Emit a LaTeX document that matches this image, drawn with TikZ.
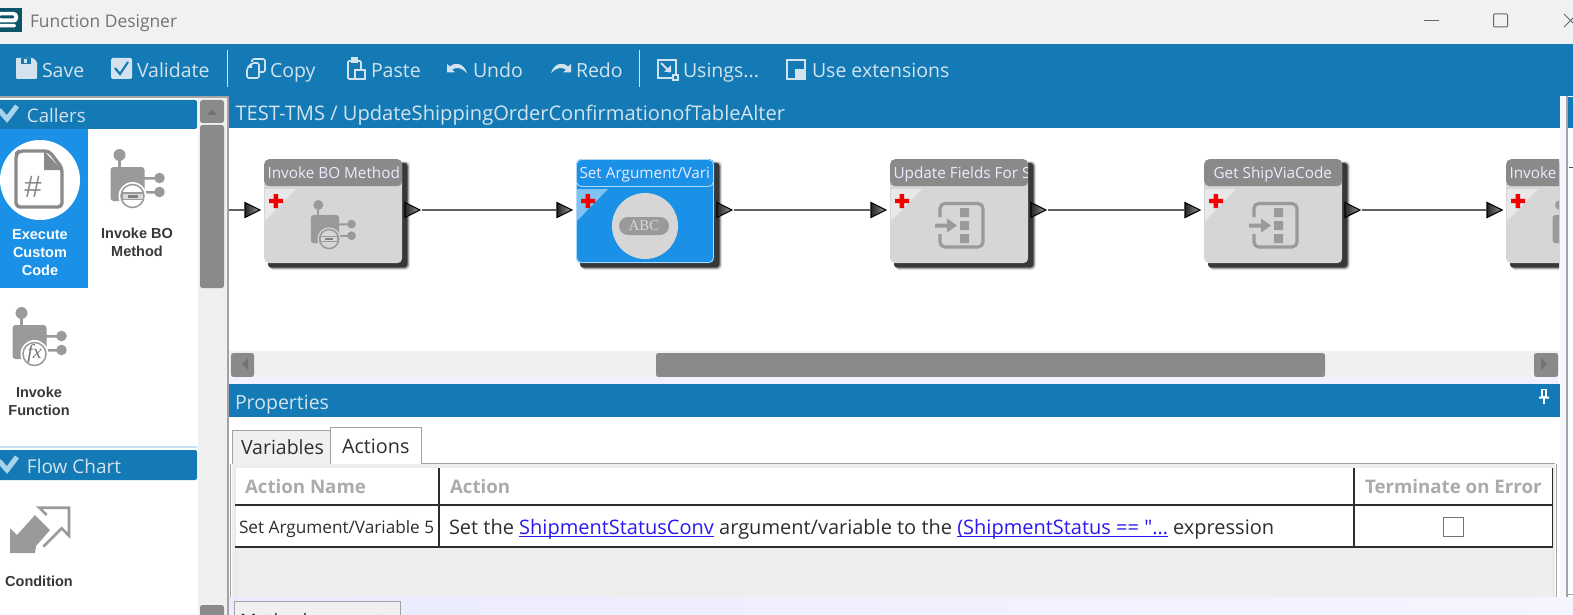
\documentclass[tikz,border=0pt]{standalone}
\usepackage{fontspec}
\setmainfont{Open Sans}
\newfontfamily\plainos{Open Sans}
\newfontfamily\arl{Liberation Sans}
\newfontfamily\tms{Liberation Serif}
\usetikzlibrary{calc}
\definecolor{tbar}{HTML}{137AB5}
\definecolor{tile}{HTML}{1A90E6}
\definecolor{soft}{HTML}{D3E3EE}
\definecolor{chev}{HTML}{A9D3EA}
\definecolor{glyph}{HTML}{9A9A9A}
\definecolor{body}{HTML}{D6D6D6}
\definecolor{hdr}{HTML}{8A8A8A}
\definecolor{rail}{HTML}{F0F0F0}
\definecolor{well}{HTML}{EEEEEE}
\definecolor{edge}{HTML}{A3A3A3}
\definecolor{hyper}{HTML}{2A1AEE}
\definecolor{ink}{HTML}{2E2E2E}
\definecolor{mute}{HTML}{ABABAB}
\definecolor{logoc}{HTML}{0E5468}
\newcommand\fs[1]{\fontsize{#1}{#1}\selectfont}
\newlength\lnkw
\newcommand\lnk[1]{\settowidth\lnkw{#1}\textcolor{hyper}{\rlap{\rule[-2.6pt]{\lnkw}{1pt}}#1}}
\tikzset{
  lab/.style={anchor=base west,inner sep=0pt,outer sep=0pt,font=\fs{#1},yshift={-0.36*#1*1pt}},
  bar/.style={text=soft,lab=19.5},
  head/.style={text=soft,lab=#1},
  side/.style={align=center,inner sep=0pt,font=\arl\fs{14.5}\bfseries,text=black!78},
  wire/.style={draw=black!62,line width=2pt},
  cell/.style={draw=ink,line width=1.4pt},
  btn/.style={fill=hdr,rounded corners=2.5pt},
  tool/.style={fill=soft,draw=none},
  toolo/.style={draw=soft,line width=1.8pt,fill=none},
}
\newcommand\pin[2]{%
  \draw[black,line width=1.1pt,line join=miter,left color=black!85,right color=black!40]
    ($(#1,#2)+(-15,-7.5)$) -- ($(#1,#2)+(-15,7.5)$) -- (#1,#2) -- cycle;}
\newcommand\invokeicon[5]{%
  \begin{scope}[shift={(#1,#2)},scale=#3]
    \fill[glyph] (0,0) circle (6);
    \fill[glyph] (-1.3,5) rectangle (1.3,13);
    \fill[glyph,rounded corners=3] (-9,12) rectangle (25,46);
    \fill[glyph] (24,22) rectangle (40,24.5) (24,36) rectangle (40,38.5);
    \fill[glyph] (40,23) circle (5.3) (40,37) circle (5.3);
    \fill[#4] (13,41) circle (14);
    \draw[glyph,line width=1.5pt] (13,41) circle (11.5);
    #5
  \end{scope}}
\newcommand\boglyph{%
  \fill[glyph] (1.5,37) rectangle (24.5,45);
  \fill[white!85!black] (3,38.5) rectangle (23,43.5);
  \fill[black!50] (8,39.5) rectangle (18,42.5);}
\newcommand\fieldglyph[1]{%
  \begin{scope}[shift={(#1,0)}]
    \draw[glyph,line width=3.2pt,rounded corners=5] (50,217) -- (50,203.5) -- (93,203.5) -- (93,247) -- (50,247) -- (50,234);
    \fill[glyph] (70,208) rectangle (79,217) (70,221) rectangle (79,230) (70,234) rectangle (79,243);
    \fill[glyph] (45,223.6) -- (57,223.6) -- (57,218.5) -- (67,225.5) -- (57,232.5) -- (57,227.6) -- (45,227.6) -- cycle;
  \end{scope}}
\newcommand\stepbox[5]{%
  \fill[black!10,rounded corners=4] (#2+5,161) rectangle (#2+146,270);
  \fill[black!35,rounded corners=4] (#2+5,162) rectangle (#2+145,269);
  \fill[black!78,rounded corners=3] (#2+4,163) rectangle (#2+143.5,267.5);
  \node[fill=#4,rounded corners=5,anchor=north west,minimum width=138pt,minimum height=104pt,inner sep=0pt] (#1) at (#2,159) {};
  \node[fill=#5,rounded corners=5,anchor=north west,minimum width=138pt,minimum height=27pt,inner sep=0pt] (#1h) at (#2,159) {};
  \begin{scope}
    \clip (#2,159) rectangle (#2+137,186);
    \node[lab=15.3,text=white!92!blue] (#1t) at (#2+3.5,172.5) {#3};
  \end{scope}
  \fill[white,opacity=.45] (#2+1,189) -- (#2+32,189) -- (#2+1,221) -- cycle;
  \fill[red!95!black] (#2+9.5,194) rectangle (#2+14,208) (#2+5,198.8) rectangle (#2+19,203.2);
  \coordinate (#1in) at (#2-4,210);
  \coordinate (#1out) at (#2+156,210);
  \pin{#2-4}{210}\pin{#2+156}{210}}
\begin{document}
\begin{tikzpicture}[x=1pt,y=-1pt]
\useasboundingbox (0,0) rectangle (1573,615);
\fill[white] (0,0) rectangle (1573,615);
% ---------- title bar
\fill[rail!95!white] (0,0) rectangle (1573,44);
\fill[logoc] (0,8) rectangle (22,32);
\fill[white,rounded corners=4] (-5,12) rectangle (18,22.5);
\fill[logoc,rounded corners=1] (0,15.5) rectangle (14,18.5);
\fill[white,rounded corners=1.5] (-5,24) rectangle (16,27.5);
\node[lab=17.4,text=black!55] (ttl) at (30,21) {Function Designer};
\draw[black!60,line width=.8pt] (1424,20.5) -- (1439,20.5);
\draw[black!60,line width=1pt,rounded corners=1] (1493.5,14) rectangle (1507.5,27);
\draw[black!60,line width=1pt] (1564,14) -- (1573,23) (1564,27) -- (1573,18);
% ---------- toolbar
\fill[tbar] (0,44) rectangle (1573,96);
\draw[soft,line width=1pt] (227,50) -- (227,87) (639,50) -- (639,87);
\fill[tool,rounded corners=1] (16,58) -- (33,58) -- (37,62) -- (37,79) -- (16,79) -- cycle;
\fill[tbar] (21,58) rectangle (31,64);
\fill[tool] (24,59) rectangle (27,63);
\node[bar] (save) at (42,70) {Save};
\fill[tool,rounded corners=1.5] (111,58) rectangle (132,79);
\draw[tbar,line width=2.2pt] (115,68) -- (120,74) -- (128,62);
\node[bar] (valid) at (137,70) {Validate};
\draw[toolo,line width=1.6pt,rounded corners=2] (252,62) -- (252,59) -- (265,59) -- (265,72) -- (260,72);
\draw[toolo,line width=1.6pt,rounded corners=2] (247,68) -- (252,63) -- (259,63) -- (259,78) -- (247,78) -- cycle;
\fill[tool] (247,68) -- (252,63) -- (252,68) -- cycle;
\node[bar] (copy) at (270,70) {Copy};
\draw[toolo,line width=1.6pt,rounded corners=1] (348,61) rectangle (361,79);
\fill[tool] (351,57.5) rectangle (358,63);
\draw[soft,fill=tbar,line width=1.4pt] (355,70) rectangle (365,79);
\node[bar] (paste) at (371,70) {Paste};
\fill[tool] (447,64) -- (447,72.5) -- (455,72.5) -- (452,69.5) .. controls (457,66.5) and (462,68) .. (467,73) .. controls (464,64) and (456,61) .. (450,66.5) -- cycle;
\node[bar] (undo) at (473,70) {Undo};
\fill[tool] (571,64) -- (571,72.5) -- (563,72.5) -- (566,69.5) .. controls (561,66.5) and (556,68) .. (551,73) .. controls (554,64) and (562,61) .. (568,66.5) -- cycle;
\node[bar] (redo) at (576,70) {Redo};
\draw[toolo] (658,60) rectangle (676,78);
\draw[soft,line width=2pt] (661,63) -- (670,72);
\fill[soft] (664,72) -- (671,72) -- (671,65) -- cycle;
\fill[tool] (672,74) rectangle (679,81);
\fill[tbar] (674,76) rectangle (677,79);
\node[bar] (usings) at (683,70) {Usings...};
\draw[toolo] (787,60) rectangle (805,79);
\fill[tool] (795,69) rectangle (806,80);
\node[bar] (ext) at (812,70) {Use extensions};
% ---------- left palette
\fill[rail] (198,98) rectangle (228,615);
\fill[edge] (0,96) rectangle (228,98);
\fill[edge] (227,96) rectangle (229,615);
\fill[tbar,rounded corners=2] (-4,100) rectangle (197,129);
\draw[chev,line width=5pt] (-1,110) -- (7,119) -- (17,106);
\node[head=18.7] (callers) at (27,115.5) {Callers};
\fill[btn] (200,100) rectangle (224,123);
\fill[black!55] (207,115) -- (217,115) -- (212,109) -- cycle;
\fill[btn] (200,125) rectangle (224,288);
\fill[btn] (200,605) rectangle (224,620);
\fill[tile] (0,129) rectangle (88,288);
\fill[white] (40,180) circle (40);
\draw[hdr,line width=3.4pt,rounded corners=4,line join=round] (16,154) -- (16,207) -- (62,207) -- (62,168) -- (49,151) -- (19,151) -- cycle;
\fill[hdr] (44,151) -- (62,170) -- (44,170) -- cycle;
\node[text=hdr,font=\arl\fs{31},inner sep=0pt] (hash) at (33,187) {\#};
\node[side,text=white] (exec) at (40,252.5) {Execute\\[3.5pt]Custom\\[3.5pt]Code};
\invokeicon{119.5}{155}{1}{white}{\boglyph}
\node[side] (invbo) at (137,242) {Invoke BO\\[3.5pt]Method};
\invokeicon{21.5}{313}{1}{white}{\node[font=\tms\itshape\fs{20},text=black!55,inner sep=0pt] (fx) at (13,41) {fx};}
\node[side] (invfn) at (39,401) {Invoke\\[3.5pt]Function};
\fill[chev!70!white] (0,446) rectangle (197,448);
\fill[tbar,rounded corners=2] (-4,450) rectangle (197,480);
\draw[chev,line width=5pt] (-1,461) -- (7,470) -- (17,457);
\node[head=19] (flow) at (27,466.5) {Flow Chart};
\fill[glyph] (10,553) -- (10,528) -- (17,535) -- (35,515) -- (50,530) -- (36,546) -- (35,553) -- cycle;
\draw[glyph,line width=2.6pt] (46.7,515) -- (39.3,507.7) -- (69,507.7) -- (69,535.7) -- (61.7,528.3) -- (43.3,546.7);
\node[side] (cond) at (39,581.5) {Condition};
% ---------- canvas
\fill[tbar] (229,96) rectangle (1560,128);
\node[head=20.1] (crumb) at (235.5,113) {TEST-TMS / UpdateShippingOrderConfirmationofTableAlter};
\begin{scope}
  \clip (229,128) rectangle (1559,350);
  \stepbox{sa}{264}{Invoke BO Method}{body}{hdr}
  \invokeicon{318.3}{205}{.83}{body}{\boglyph}
  \stepbox{sb}{576}{Set Argument/Vari}{tile}{tile}
  \draw[white!65!tile,line width=.8pt,rounded corners=5] (576.5,159.5) rectangle (713.5,262.5);
  \draw[white!65!tile,line width=.8pt,rounded corners=5] (576.5,175) -- (576.5,186.5) -- (713.5,186.5) -- (713.5,175);
  \fill[body] (645,226) circle (33);
  \fill[glyph,rounded corners=9] (619,217) rectangle (669,235);
  \node[text=body,font=\tms\fs{15},inner sep=0pt] (abc) at (644,226) {ABC};
  \stepbox{sc}{890}{Update Fields For S}{body}{hdr}
  \fieldglyph{890}
  \stepbox{sd}{1204}{\hspace{3.5pt}\,Get ShipViaCode}{body}{hdr}
  \fieldglyph{1204}
  \stepbox{se}{1506}{Invoke}{body}{hdr}
  \invokeicon{1560}{205}{.83}{body}{}
  \coordinate (start) at (229,210);
  \draw[wire] (start) -- ($(sain)+(-16.5,0)$);
  \draw[wire] ($(saout)+(1.5,0)$) -- ($(sbin)+(-16.5,0)$);
  \draw[wire] ($(sbout)+(1.5,0)$) -- ($(scin)+(-16.5,0)$);
  \draw[wire] ($(scout)+(1.5,0)$) -- ($(sdin)+(-16.5,0)$);
  \draw[wire] ($(sdout)+(1.5,0)$) -- ($(sein)+(-16.5,0)$);
\end{scope}
% ---------- horizontal scrollbar
\fill[rail] (229,351) rectangle (1559,377);
\fill[btn] (231,353) rectangle (254,377);
\fill[black!55] (248,358) -- (248,370) -- (242,364) -- cycle;
\fill[btn] (656,353) rectangle (1325,377);
\fill[btn] (1534,353) rectangle (1558,377);
\fill[black!55] (1541,358) -- (1541,370) -- (1547,364) -- cycle;
\fill[blue!6!white] (229,377) rectangle (1559,384);
% ---------- properties
\fill[tbar] (229,384) rectangle (1560,417);
\node[head=19.5] (props) at (235,402) {Properties};
\fill[white] (1541,389) rectangle (1547,397);
\fill[tbar] (1543,390) rectangle (1545,396);
\fill[white] (1539,396.5) rectangle (1549,398.5) (1543.2,398.5) rectangle (1544.8,404);
% tabs
\draw[edge,line width=1pt] (232.5,463.5) -- (1555,463.5);
\draw[edge,fill=rail,line width=1pt] (232.5,463.5) -- (232.5,430.5) -- (330,430.5) -- (330,463.5);
\draw[edge,fill=white,line width=1pt] (330,463.5) -- (330,427.5) -- (421.5,427.5) -- (421.5,463.5);
\node[lab=19.5,text=ink] (tabv) at (241,447) {Variables};
\node[lab=19.8,text=ink] (taba) at (342,446) {Actions};
% table
\fill[well] (232,464) rectangle (1555,597);
\fill[white] (235,468) rectangle (1552,547);
\draw[blue!12!white,line width=1pt] (235,468) -- (235,597) (1553,468) -- (1553,597);
\draw[edge,line width=1pt] (1556,464) -- (1556,597);
\draw[edge,line width=1pt] (230,464) -- (230,597);
\draw[cell] (235,505) -- (1552.5,505) (235,547) -- (1552.5,547)
            (439,468) -- (439,547) (1354,468) -- (1354,547) (1552.5,468) -- (1552.5,547);
\node[lab=18.7,font=\fs{18.7}\bfseries,text=mute] (h1) at (245,487) {Action Name};
\node[lab=18.7,font=\fs{18.7}\bfseries,text=mute] (h2) at (450,487) {Action};
\node[lab=18.7,font=\fs{18.7}\bfseries,text=mute] (h3) at (1365,487) {Terminate on Error};
\node[lab=17.2,text=ink] (c1) at (239,527) {Set Argument/Variable 5};
\node[lab=20,text=ink] (c2) at (449,527.5) {Set the \lnk{ShipmentStatusConv} argument/variable to the \lnk{(ShipmentStatus == {\plainos"}…} expression};
\draw[black!55,line width=1pt] (1443,517) rectangle (1463,536);
% ---------- bottom strip
\fill[left color=blue!8!white,right color=blue!4!white] (229,597) rectangle (1573,615);
\draw[edge,fill=rail,line width=1pt] (234,616) -- (234,601) -- (400,601) -- (400,616);
\begin{scope}
  \clip (235,602) rectangle (399,615);
  \node[lab=18.5,text=ink] (tabm) at (240,621) {Method parameters};
\end{scope}
% ---------- right rail
\fill[blue!4!white] (1560,96) rectangle (1566,615);
\fill[edge] (1566,96) rectangle (1567.5,597);
\fill[tbar] (1568,97) rectangle (1573,128);
\fill[white] (1568,128) rectangle (1573,597);
\draw[black!70,line width=.8pt] (1569,167) -- (1573,167);
\draw[edge] (1567,594) -- (1573,594);
\end{tikzpicture}
\end{document}
